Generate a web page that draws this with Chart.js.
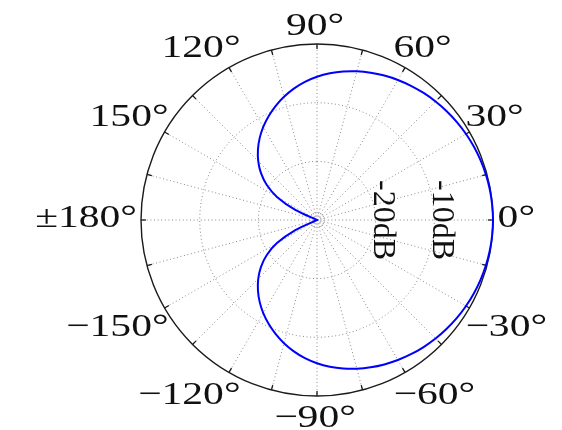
<!DOCTYPE html>
<html>
<head>
<meta charset="utf-8">
<script src="https://cdn.jsdelivr.net/npm/chart.js@4/dist/chart.umd.min.js"></script>
<style>
  html, body { margin: 0; padding: 0; background: #ffffff; }
  #polar { display: block; }
</style>
</head>
<body>
<canvas id="polar" width="562" height="430"></canvas>
<script>
// Direction angle of each spoke in degrees (0° points right, counter-clockwise positive),
// listed clockwise starting at the top as the radial scale expects.
const angleDeg = [
  90, 85, 80, 75, 70, 65, 60, 55, 50, 45, 40, 35, 30, 25, 20, 15, 10, 5, 0,
  -5, -10, -15, -20, -25, -30, -35, -40, -45, -50, -55, -60, -65, -70, -75, -80, -85, -90,
  -95, -100, -105, -110, -115, -120, -125, -130, -135, -140, -145, -150, -155, -160, -165, -170, -175,
  180, 175, 170, 165, 160, 155, 150, 145, 140, 135, 130, 125, 120, 115, 110, 105, 100, 95
];

// Directional response in dB for each angle above (floor of the scale is -30 dB).
const responseDb = [
  -5.58, -4.90, -4.30, -3.76, -3.28, -2.84, -2.44, -2.07, -1.73, -1.42, -1.14, -0.89, -0.67, -0.48, -0.32, -0.19, -0.09, -0.03, 0,
  -0.03, -0.09, -0.19, -0.32, -0.48, -0.67, -0.89, -1.14, -1.42, -1.73, -2.07, -2.44, -2.84, -3.28, -3.76, -4.30, -4.90, -5.58,
  -6.36, -7.26, -8.26, -9.34, -10.48, -11.68, -12.96, -14.34, -15.84, -17.52, -19.52, -22.12, -25.92, -30, -30, -30, -30,
  -30, -30, -30, -30, -30, -25.92, -22.12, -19.52, -17.52, -15.84, -14.34, -12.96, -11.68, -10.48, -9.34, -8.26, -7.26, -6.36
];

// Radial axis range and the rings that carry a text label.
const dbMin = -30;
const dbMax = 0;
const dbStep = 10;
const ringLabels = [-10, -20];

// Angles that get an angular tick label.
const angleTickLabels = [0, 30, 60, 90, 120, 150, 180, -150, -120, -90, -60, -30];

const SERIF = "'Liberation Serif', 'DejaVu Serif', serif";
const GRID_GREY = '#8a8a8a';

function angleText(a) {
  if (a === 180) return '\u00b1180\u00b0';
  if (a < 0) return '\u2212' + (-a) + '\u00b0';
  return a + '\u00b0';
}

const polarFrame = {
  id: 'polarFrame',
  beforeDatasetsDraw(chart) {
    const s = chart.scales.r;
    const ctx = chart.ctx;
    const R = s.getDistanceFromCenterForValue(dbMax);
    ctx.save();
    // small dotted ring around the origin
    ctx.strokeStyle = GRID_GREY;
    ctx.lineWidth = 1;
    ctx.setLineDash([1, 1.6]);
    ctx.beginPath();
    ctx.arc(s.xCenter, s.yCenter, 7, 0, Math.PI * 2);
    ctx.stroke();
    // solid outer boundary
    ctx.setLineDash([]);
    ctx.strokeStyle = '#1a1a1a';
    ctx.lineWidth = 1.4;
    ctx.beginPath();
    ctx.arc(s.xCenter, s.yCenter, R, 0, Math.PI * 2);
    ctx.stroke();
    // inward ticks every 15 degrees
    ctx.lineWidth = 1.3;
    angleDeg.forEach((a, i) => {
      if (a % 15 !== 0) return;
      const p1 = s.getPointPosition(i, R);
      const p2 = s.getPointPosition(i, R - 5);
      ctx.beginPath();
      ctx.moveTo(p1.x, p1.y);
      ctx.lineTo(p2.x, p2.y);
      ctx.stroke();
    });
    ctx.restore();
  },
  afterDraw(chart) {
    const s = chart.scales.r;
    const ctx = chart.ctx;
    const cx = s.xCenter, cy = s.yCenter;
    const R = s.getDistanceFromCenterForValue(dbMax);
    ctx.save();
    ctx.fillStyle = '#111111';

    // angular labels
    const stretch = 1.3;
    ctx.font = '32px ' + SERIF;
    ctx.textAlign = 'left';
    ctx.textBaseline = 'alphabetic';
    const h = 21.6; // digit height
    angleTickLabels.forEach(a => {
      const i = angleDeg.indexOf(a);
      const p = s.getPointPosition(i, R);
      const c = (p.x - cx) / R;
      const sn = -(p.y - cy) / R;
      const text = angleText(a);
      const w = ctx.measureText(text).width * stretch;
      let left, base;
      if (Math.abs(sn) < 0.01) {
        base = cy - 4 + h / 2;
        left = c > 0 ? cx + R + 4.6 : cx - R - 4 - w;
      } else if (Math.abs(c) < 0.01) {
        left = cx - 2 - w / 2;
        base = sn > 0 ? cy - R - 9 : cy + R + 9 + h;
      } else {
        const inner = (R + 4.6) * Math.abs(c) - 16 * Math.abs(sn);
        left = c > 0 ? cx + inner : cx - inner - w;
        const off = (R + 12) * Math.abs(sn);
        base = sn > 0 ? cy - off : cy + off + h;
      }
      ctx.save();
      ctx.translate(left, base);
      ctx.scale(stretch, 1);
      ctx.fillText(text, 0, 0);
      ctx.restore();
    });

    // ring labels, written downwards along the 0° spoke
    ctx.font = '32px ' + SERIF;
    ctx.textAlign = 'center';
    ctx.textBaseline = 'alphabetic';
    ringLabels.forEach(v => {
      const r = s.getDistanceFromCenterForValue(v);
      ctx.save();
      ctx.translate(cx + r - 1.5, cy);
      ctx.rotate(Math.PI / 2);
      ctx.fillText(v + 'dB', 0, 0);
      ctx.restore();
    });
    ctx.restore();
  }
};

new Chart(document.getElementById('polar'), {
  type: 'radar',
  data: {
    labels: angleDeg,
    datasets: [{
      data: responseDb,
      borderColor: '#0000ff',
      borderWidth: 2,
      backgroundColor: 'rgba(0,0,0,0)',
      fill: false,
      pointRadius: 0,
      pointHoverRadius: 0,
      tension: 0.3
    }]
  },
  options: {
    responsive: false,
    devicePixelRatio: 1,
    animation: false,
    events: [],
    layout: { padding: { left: 141, right: 69, top: 44, bottom: 34 } },
    plugins: { legend: { display: false }, tooltip: { enabled: false } },
    scales: {
      r: {
        min: dbMin,
        max: dbMax,
        ticks: { display: false, stepSize: dbStep },
        grid: {
          circular: false,
          color: (ctx) => (ctx.tick && ctx.tick.value === dbMax) ? 'rgba(0,0,0,0)' : GRID_GREY,
          lineWidth: 1
        },
        border: { dash: [1, 2.6] },
        angleLines: {
          color: GRID_GREY,
          lineWidth: (ctx) => (angleDeg[ctx.index] % 15 === 0 ? 1 : 0),
          borderDash: [1, 2.6]
        },
        pointLabels: { display: false }
      }
    }
  },
  plugins: [polarFrame]
});
</script>
</body>
</html>
